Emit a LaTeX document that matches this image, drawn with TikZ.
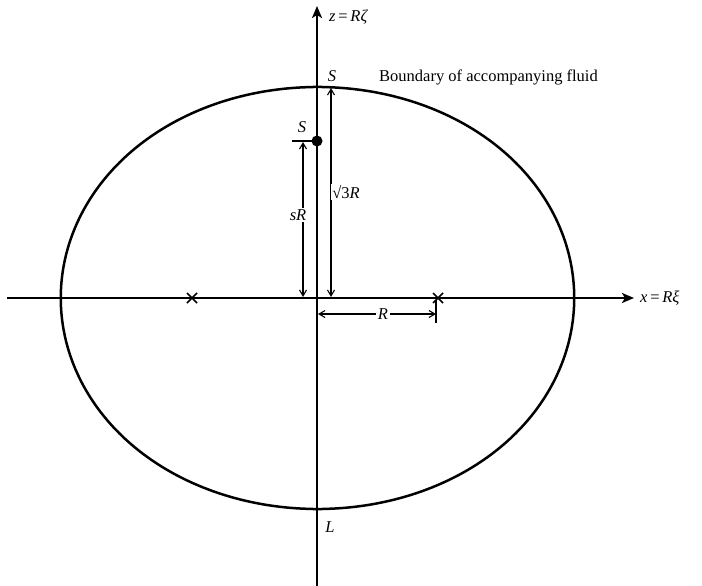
\documentclass[tikz,border=0pt]{standalone}
\usepackage{fontspec}
\setmainfont{Liberation Serif}
\usetikzlibrary{arrows.meta}
\begin{document}
\begin{tikzpicture}[x=1pt,y=-1pt,
  axis/.style={line width=2.5pt,-{Stealth[length=12pt,width=10pt,inset=3pt]}},
  oval/.style={line width=2.5pt,line join=round},
  dim/.style={line width=1.1pt,{Straight Barb[length=6pt,width=7pt]}-{Straight Barb[length=6pt,width=7pt]}},
  lbl/.style={inner sep=1pt,font=\fontsize{16.5}{19}\selectfont},
  cross/.style={line width=1.6pt},
  declare function={ff(\t)=((\t+1)*(\t+1)-exp(\t)*(\t-1)*(\t-1))/(exp(\t)-1);}]
\useasboundingbox (0,0) rectangle (702,586);
\coordinate (O) at (317,298);
% boundary oval (Kelvin oval of the vortex pair)
\begin{scope}[shift={(317.5,298)}]
\draw[oval] plot[domain=-89.5:89.5,samples=180]
   ({123*2.0873*cos(\x)},{-121.8*sign(\x)*sqrt(max(0,ff(2.0873*cos(\x))))})
 -- plot[domain=90.5:269.5,samples=180]
   ({123*2.0873*cos(\x)},{-121.8*sign(sin(\x))*sqrt(max(0,ff(abs(2.0873*cos(\x)))))})
 -- cycle;
\end{scope}
% axes
\coordinate (zb) at (317,586);
\coordinate (zt) at (317,6);
\coordinate (xl) at (7,298);
\coordinate (xr) at (634,298);
\draw[axis] (xl) -- (xr);
\draw[axis] (zb) -- (zt);
% crosses
\coordinate (c1) at (192,298);
\coordinate (c2) at (438,298);
\foreach \c in {c1,c2}{
  \draw[cross] ([shift={(-5,-5)}]\c) -- ([shift={(5,5)}]\c);
  \draw[cross] ([shift={(-5,5)}]\c) -- ([shift={(5,-5)}]\c);
}
% point S on axis
\coordinate (Sd) at (317,141);
\coordinate (St) at (292,141);
\draw[line width=1.1pt] (St) -- (Sd);
\fill (Sd) circle (5.5);
% dimension sR
\coordinate (a1) at (303,142);
\coordinate (a2) at (303,297);
\draw[dim] (a1) -- (a2);
\node[lbl,fill=white,inner sep=2pt] (sR) at (298,215) {\textit{sR}};
% dimension sqrt3 R
\coordinate (b1) at (331,88);
\coordinate (b2) at (331,297);
\draw[dim] (b1) -- (b2);
\node[lbl,fill=white,inner sep=1pt] (s3R) at (346,192) {√3\textit{R}};
% dimension R
\coordinate (r1) at (318,314);
\coordinate (r2) at (436,314);
\coordinate (rt1) at (436,300);
\coordinate (rt2) at (436,323);
\draw[line width=1.1pt] (rt1) -- (rt2);
\draw[dim] (r1) -- (r2);
\node[lbl,fill=white,inner sep=2pt] (Rl) at (383,314) {\textit{R}};
% labels
\node[lbl,anchor=west] (zlab) at (328,17) {\textit{z}\,=\,\textit{Rζ}};
\node[lbl] (Stop) at (332,76) {\textit{S}};
\node[lbl,anchor=west] (bnd) at (378,77) {Boundary of accompanying fluid};
\node[lbl] (Ssm) at (302,127) {\textit{S}};
\node[lbl,anchor=west] (xlab) at (639,298) {\textit{x}\,=\,\textit{Rξ}};
\node[lbl] (L) at (330,527) {\textit{L}};
\end{tikzpicture}
\end{document}
